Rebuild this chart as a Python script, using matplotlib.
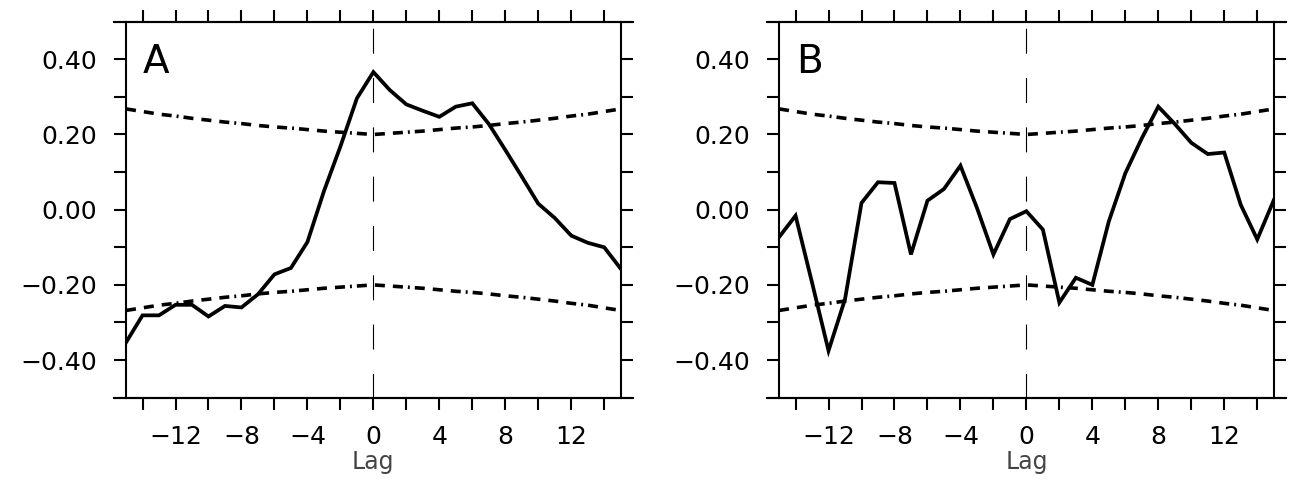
import numpy as np
import matplotlib
matplotlib.use('Agg')
import matplotlib.pyplot as plt
from matplotlib.ticker import MultipleLocator, FixedLocator, FuncFormatter

plt.rcParams['lines.scale_dashes'] = False
plt.rcParams['font.family'] = ['DejaVu Sans']

# Lags and lagged correlations
lags = list(range(-15, 16))

corr_a = [-0.353, -0.281, -0.281, -0.253, -0.253, -0.284, -0.256, -0.260,
          -0.225, -0.172, -0.155, -0.086, 0.049, 0.168, 0.296, 0.366,
          0.318, 0.280, 0.263, 0.247, 0.274, 0.283, 0.228, 0.159,
          0.088, 0.016, -0.022, -0.069, -0.088, -0.100, -0.157]

corr_b = [-0.073, -0.016, -0.194, -0.375, -0.238, 0.018, 0.073, 0.071,
          -0.119, 0.024, 0.055, 0.117, 0.005, -0.119, -0.025, -0.004,
          -0.053, -0.247, -0.181, -0.200, -0.031, 0.097, 0.190, 0.274,
          0.228, 0.178, 0.148, 0.152, 0.013, -0.079, 0.025]

# 95% significance level at each lag (same for both panels)
signif = [0.268, 0.261, 0.254, 0.249, 0.243, 0.238, 0.233, 0.229,
          0.224, 0.220, 0.217, 0.213, 0.209, 0.206, 0.203, 0.200,
          0.203, 0.206, 0.209, 0.213, 0.217, 0.220, 0.224, 0.229,
          0.233, 0.238, 0.243, 0.249, 0.254, 0.261, 0.268]

panels = [('A', corr_a), ('B', corr_b)]
x_ticks = list(range(-14, 15, 2))
x_labels = [-12, -8, -4, 0, 4, 8, 12]
y_labels = [-0.4, -0.2, 0.0, 0.2, 0.4]

fig = plt.figure(figsize=(12.98, 4.86), dpi=100)
lefts = [0.0971, 0.6002]
dashdot = (0, (7.2, 5.8, 7.2, 5.8, 7.2, 3.6, 1.4, 3.6))

ytick_fmt = FuncFormatter(lambda v, pos: f'{v:.2f}'.replace('-', '\u2212'))

for left, (name, corr) in zip(lefts, panels):
    ax = fig.add_axes([left, 0.1817, 0.3811, 0.7737])
    ax.set_xlim(-15, 15)
    ax.set_ylim(-0.5, 0.5)

    ax.plot(lags, corr, color='black', lw=2.7, solid_joinstyle='miter')
    ax.plot(lags, signif, color='black', lw=2.6, linestyle=dashdot)
    ax.plot(lags, [-s for s in signif], color='black', lw=2.6, linestyle=dashdot)
    ax.plot([0, 0], [0.5, -0.5], color='black', lw=0.8,
            linestyle=(31, (18, 17.5)))

    ax.text(0.034, 0.864, name, transform=ax.transAxes, fontsize=28,
            ha='left', va='baseline')

    for s in ax.spines.values():
        s.set_linewidth(1.5)
    # horizontal frame lines run out past the corners, as in the original
    for yy in (0, 1):
        ax.plot([-0.025, 1.025], [yy, yy], transform=ax.transAxes,
                color='black', lw=1.5, clip_on=False)

    ax.xaxis.set_major_locator(FixedLocator(x_labels))
    ax.xaxis.set_minor_locator(FixedLocator(x_ticks))
    ax.yaxis.set_major_locator(FixedLocator(y_labels))
    ax.yaxis.set_minor_locator(MultipleLocator(0.1))
    ax.yaxis.set_major_formatter(ytick_fmt)
    ax.tick_params(which='both', direction='out', length=8.6, width=1.5,
                   top=True, right=True, labelsize=18)
    ax.tick_params(axis='x', pad=11)
    ax.tick_params(axis='y', pad=12)
    ax.set_xlabel('Lag', fontsize=17, color='#444444', labelpad=1)

fig.savefig('out.png', dpi=100)
